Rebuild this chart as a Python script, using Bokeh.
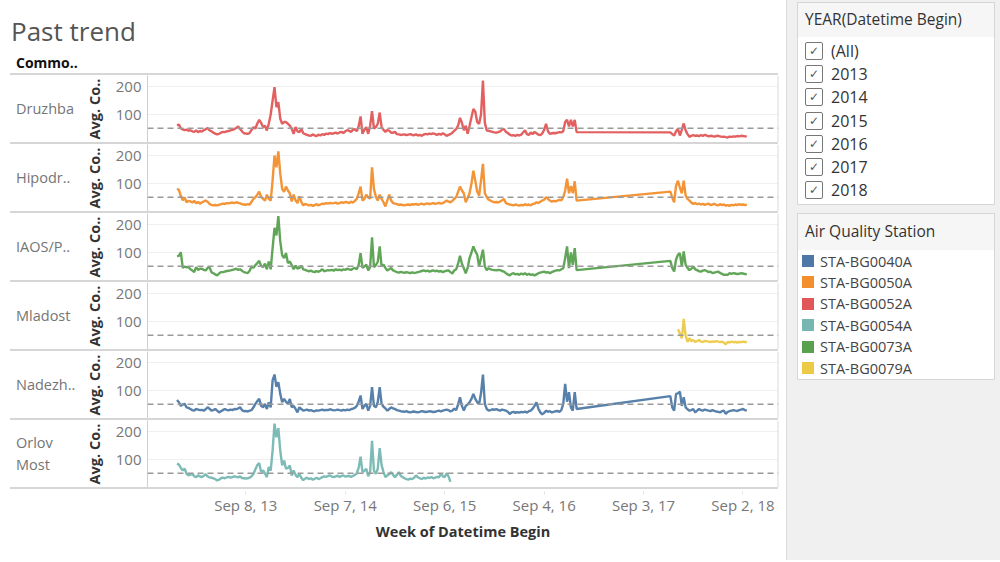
import pandas as pd
from bokeh.plotting import figure
from bokeh.models import Range1d, FixedTicker, Span, ColumnDataSource, Div
from bokeh.layouts import column, row
from bokeh.embed import file_html
from bokeh.resources import INLINE

# ---------------- data (weekly averages) ----------------
FIRST_WEEK = "2012-12-30"   # week index 0

druzhba_a_start = 0
druzhba_a = [61, 64, 50, 47, 44, 46, 42, 44, 40, 38,
             43, 37, 41, 39, 44, 47, 52, 44, 40, 35,
             32, 29, 31, 35, 38, 37, 40, 41, 43, 45,
             48, 52, 57, 48, 40, 33, 32, 31, 34, 45,
             55, 50, 68, 81, 70, 55, 60, 43, 67, 100,
             150, 198, 126, 144, 85, 67, 73, 73, 67, 60,
             49, 31, 55, 40, 37, 49, 33, 30, 27, 25,
             24, 29, 25, 23, 28, 25, 30, 27, 32, 30,
             34, 31, 33, 35, 32, 36, 38, 34, 40, 44,
             42, 38, 45, 48, 40, 58, 93, 31, 45, 55,
             31, 60, 112, 50, 55, 67, 107, 55, 45, 38,
             45, 42, 35, 35, 38, 30, 29, 27, 28, 29,
             26, 28, 30, 27, 26, 29, 25, 27, 24, 28,
             31, 29, 32, 30, 33, 30, 27, 31, 28, 33,
             29, 24, 27, 30, 35, 42, 48, 60, 88, 70,
             44, 60, 31, 60, 90, 120, 110, 73, 67, 100,
             221, 70, 43, 42, 40, 38, 36, 35, 37, 40,
             46, 48, 38, 34, 28, 25, 26, 24, 27, 25,
             28, 36, 44, 30, 27, 36, 30, 38, 33, 28,
             26, 32, 45, 67, 40, 31, 33, 34, 33, 35,
             37, 36, 40, 73, 81, 57, 81, 57, 81, 37]
druzhba_b_start = 258
druzhba_b = [36, 30, 25, 40, 49, 25, 45, 68, 44, 30,
             20, 24, 26, 24, 25, 23, 26, 24, 27, 25,
             22, 24, 23, 21, 23, 24, 22, 20, 21, 19,
             18, 21, 20, 22, 21, 23, 22, 24, 23, 22, 22]

hipodr_a_start = 0
hipodr_a = [81, 77, 55, 40, 50, 33, 38, 36, 32, 38,
            30, 34, 28, 32, 36, 39, 35, 27, 24, 22,
            23, 22, 24, 26, 28, 27, 30, 29, 31, 32,
            30, 33, 31, 29, 26, 25, 24, 26, 25, 35,
            45, 51, 60, 71, 51, 45, 39, 60, 45, 39,
            111, 200, 158, 215, 135, 81, 70, 89, 75, 65,
            36, 60, 40, 30, 54, 35, 22, 27, 25, 22,
            24, 20, 23, 26, 22, 25, 28, 27, 30, 28,
            31, 29, 30, 32, 28, 30, 33, 31, 34, 33,
            30, 35, 32, 38, 45, 65, 89, 39, 45, 60,
            50, 46, 158, 80, 53, 39, 60, 45, 33, 18,
            40, 60, 39, 30, 28, 26, 24, 25, 23, 22,
            24, 25, 23, 26, 25, 27, 24, 26, 28, 25,
            27, 29, 26, 28, 30, 27, 29, 31, 28, 30,
            34, 39, 35, 33, 38, 45, 51, 70, 89, 75,
            65, 33, 48, 65, 100, 146, 110, 71, 57, 110,
            170, 65, 51, 42, 39, 35, 33, 34, 32, 36,
            40, 45, 30, 27, 25, 24, 22, 25, 23, 21,
            24, 22, 26, 23, 25, 22, 27, 28, 33, 30,
            35, 39, 42, 51, 45, 39, 35, 38, 36, 39,
            42, 40, 51, 75, 117, 65, 91, 65, 108, 39]
hipodr_b_start = 258
hipodr_b = [71, 50, 33, 92, 110, 85, 65, 110, 57, 45,
            39, 32, 27, 30, 26, 28, 25, 27, 24, 26,
            28, 23, 25, 27, 24, 22, 26, 23, 25, 21,
            23, 20, 24, 22, 25, 23, 26, 24, 25, 23, 24]

iaos_a_start = 0
iaos_a = [87, 88, 101, 45, 50, 47, 48, 40, 36, 30,
          48, 38, 42, 42, 38, 36, 45, 48, 30, 26,
          22, 18, 25, 30, 30, 32, 34, 35, 36, 38,
          40, 42, 38, 40, 35, 30, 28, 27, 35, 50,
          45, 55, 62, 70, 52, 48, 60, 40, 68, 40,
          116, 188, 161, 230, 140, 90, 80, 98, 62, 68,
          55, 40, 53, 42, 45, 53, 40, 38, 35, 33,
          35, 32, 30, 34, 31, 35, 40, 33, 35, 37,
          36, 38, 35, 40, 37, 39, 36, 40, 38, 42,
          40, 38, 42, 45, 40, 55, 98, 45, 50, 57,
          36, 48, 154, 48, 55, 67, 122, 50, 57, 45,
          36, 40, 45, 36, 33, 30, 28, 31, 29, 27,
          30, 28, 26, 29, 27, 28, 30, 32, 34, 36,
          33, 35, 32, 34, 36, 33, 35, 32, 34, 30,
          33, 35, 36, 30, 25, 36, 40, 60, 88, 60,
          44, 26, 45, 80, 100, 122, 105, 92, 50, 80,
          110, 50, 37, 44, 40, 38, 37, 36, 38, 37,
          34, 32, 26, 22, 18, 24, 26, 22, 24, 20,
          25, 22, 26, 20, 24, 20, 22, 18, 22, 26,
          28, 30, 32, 28, 30, 26, 30, 33, 35, 37,
          36, 40, 44, 80, 122, 44, 100, 56, 116, 37]
iaos_b_start = 258
iaos_b = [70, 45, 32, 75, 92, 98, 50, 104, 56, 45,
          37, 42, 50, 40, 37, 33, 32, 35, 37, 34,
          30, 32, 26, 28, 30, 32, 27, 24, 20, 21,
          20, 26, 24, 26, 25, 23, 24, 26, 25, 23, 22]

mladost_a_start = 262
mladost_a = [72, 57, 40, 109, 50, 27, 40, 30, 34, 27,
             30, 34, 28, 27, 31, 30, 28, 26, 29, 27,
             30, 28, 26, 28, 24, 19, 27, 25, 28, 26,
             27, 25, 27, 26, 28, 27, 26]

nadezh_a_start = 0
nadezh_a = [66, 58, 45, 50, 52, 40, 38, 34, 30, 28,
            34, 32, 30, 31, 28, 33, 40, 35, 28, 30,
            34, 28, 22, 26, 30, 34, 31, 29, 32, 30,
            34, 33, 36, 40, 30, 26, 27, 25, 28, 30,
            40, 52, 62, 70, 45, 40, 52, 34, 58, 40,
            136, 157, 113, 130, 88, 58, 70, 60, 52, 70,
            40, 45, 34, 22, 40, 34, 28, 30, 32, 28,
            30, 27, 26, 29, 28, 30, 32, 29, 31, 30,
            33, 31, 29, 30, 32, 30, 28, 31, 29, 32,
            30, 33, 35, 38, 45, 60, 82, 34, 45, 52,
            28, 45, 112, 45, 40, 58, 112, 52, 42, 36,
            28, 34, 40, 36, 34, 30, 28, 26, 25, 24,
            26, 23, 22, 24, 25, 23, 22, 24, 26, 25,
            23, 24, 26, 25, 23, 24, 26, 28, 25, 28,
            30, 32, 30, 25, 28, 35, 30, 50, 76, 45,
            28, 45, 50, 58, 70, 88, 70, 58, 52, 90,
            157, 52, 34, 28, 30, 33, 31, 34, 30, 28,
            32, 30, 28, 24, 16, 22, 24, 20, 23, 21,
            24, 22, 25, 21, 26, 28, 35, 45, 58, 35,
            22, 15, 20, 28, 24, 26, 22, 24, 26, 27,
            24, 30, 52, 124, 60, 94, 40, 28, 94, 34]
nadezh_b_start = 258
nadezh_b = [80, 40, 28, 88, 90, 96, 45, 76, 40, 33,
            28, 30, 34, 22, 28, 34, 30, 28, 32, 30,
            28, 26, 30, 27, 25, 24, 22, 26, 28, 16,
            24, 26, 28, 30, 28, 27, 30, 32, 34, 30, 28]

orlov_a_start = 0
orlov_a = [85, 82, 70, 61, 67, 49, 43, 46, 49, 40,
           37, 43, 40, 37, 42, 47, 40, 36, 35, 33,
           30, 25, 28, 33, 35, 33, 36, 38, 35, 37,
           40, 38, 36, 40, 34, 33, 32, 33, 35, 40,
           49, 65, 80, 87, 55, 61, 50, 37, 73, 60,
           132, 228, 179, 212, 132, 79, 96, 67, 70, 79,
           43, 61, 45, 37, 49, 35, 26, 32, 35, 30,
           33, 28, 31, 35, 30, 33, 37, 40, 38, 41,
           43, 39, 37, 40, 42, 38, 41, 43, 39, 40,
           42, 38, 41, 45, 50, 70, 110, 55, 60, 67,
           40, 55, 167, 60, 49, 67, 141, 80, 55, 37,
           43, 48, 55, 45, 37, 45, 55, 42, 37, 33,
           30, 28, 32, 30, 35, 43, 36, 33, 30, 35,
           32, 36, 34, 37, 33, 35, 38, 36, 49, 40,
           37, 51, 40, 20]

row_names = ["Druzhba", "Hipodr..", "IAOS/P..", "Mladost", "Nadezh..", "Orlov<br>Most"]
row_codes = ["STA-BG0052A", "STA-BG0050A", "STA-BG0073A", "STA-BG0079A", "STA-BG0040A", "STA-BG0054A"]
row_segments = [
    [(druzhba_a_start, druzhba_a), (druzhba_b_start, druzhba_b)],
    [(hipodr_a_start, hipodr_a), (hipodr_b_start, hipodr_b)],
    [(iaos_a_start, iaos_a), (iaos_b_start, iaos_b)],
    [(mladost_a_start, mladost_a)],
    [(nadezh_a_start, nadezh_a), (nadezh_b_start, nadezh_b)],
    [(orlov_a_start, orlov_a)],
]
legend_codes = ["STA-BG0040A", "STA-BG0050A", "STA-BG0052A", "STA-BG0054A", "STA-BG0073A", "STA-BG0079A"]
legend_colors = ["#4e79a7", "#f28e2b", "#e15759", "#76b7b2", "#59a14f", "#edc948"]
year_options = ["(All)", "2013", "2014", "2015", "2016", "2017", "2018"]
reference_value = 51
y_ticks = [100, 200]
tick_dates = ["2013-09-08", "2014-09-07", "2015-09-06", "2016-09-04", "2017-09-03", "2018-09-02"]
tick_labels = ["Sep 8, 13", "Sep 7, 14", "Sep 6, 15", "Sep 4, 16", "Sep 3, 17", "Sep 2, 18"]

# ---------------- layout constants ----------------
FONT = "Open Sans"
TOTAL_W = 786
LABEL_W = 80
FIG_W = TOTAL_W - LABEL_W
BORDER_L = 147 - LABEL_W
BORDER_R = 8
ROW_H = 67
SEP_H = 2
Y_MAX = ROW_H / 0.28
SEP_COLOR = "#d6d6d6"

color_of = dict(zip(legend_codes, legend_colors))
x_start = pd.Timestamp("2012-09-13")
x_end = pd.Timestamp("2019-01-10")
x_range = Range1d(x_start, x_end)
tick_ms = [float(pd.Timestamp(d).value // 10**6) for d in tick_dates]


def series_source(segments):
    xs, ys = [], []
    base = pd.Timestamp(FIRST_WEEK)
    for start, vals in segments:
        for k, v in enumerate(vals):
            xs.append(base + pd.Timedelta(weeks=start + k))
            ys.append(v)
    return ColumnDataSource(dict(x=xs, y=ys))


def separator():
    # thin grey rule between panes (full width, starts 10px in)
    return Div(width=768, height=SEP_H, margin=(0, 8, 0, 10), text="",
               styles={"background-color": SEP_COLOR})


header = Div(width=TOTAL_W, height=73, margin=(0, 0, 0, 0), text=(
    '<div style="position:relative;width:%dpx;height:73px;font-family:\'Open Sans\';">'
    '<div style="position:absolute;left:11px;top:13px;height:36px;line-height:36px;font-size:26px;'
    'color:#555;white-space:nowrap;">Past trend</div>'
    '<div style="position:absolute;left:16px;top:53px;height:20px;line-height:20px;font-size:14px;'
    'font-weight:bold;color:#111;white-space:nowrap;">Commo..</div>'
    '</div>') % TOTAL_W)

items = [header]
for k in range(len(row_names)):
    code = row_codes[k]
    p = figure(width=FIG_W, height=ROW_H, x_range=x_range, y_range=Range1d(0, Y_MAX),
               x_axis_type="datetime", x_axis_location=None,
               toolbar_location=None, output_backend="svg", title=None,
               min_border_left=BORDER_L, min_border_right=BORDER_R, min_border_top=0,
               min_border_bottom=0, outline_line_color=None,
               background_fill_color="white", border_fill_color="white")
    p.xgrid.visible = False
    p.ygrid.ticker = FixedTicker(ticks=y_ticks)
    p.ygrid.grid_line_color = "#efefef"
    p.ygrid.grid_line_width = 1

    ya = p.yaxis[0]
    ya.ticker = FixedTicker(ticks=y_ticks)
    ya.major_tick_line_color = None
    ya.minor_tick_line_color = None
    ya.major_tick_out = 0
    ya.major_tick_in = 0
    ya.axis_line_color = "#cfcfcf"
    ya.major_label_text_font = FONT
    ya.major_label_text_font_size = "15px"
    ya.major_label_text_color = "#777777"
    ya.major_label_standoff = 6
    ya.axis_label = "Avg. Co.."
    ya.axis_label_text_font = FONT
    ya.axis_label_text_font_size = "14.5px"
    ya.axis_label_text_font_style = "bold"
    ya.axis_label_text_color = "#333333"
    ya.axis_label_standoff = 9

    p.line("x", "y", source=series_source(row_segments[k]), line_color=color_of[code],
           line_width=2.4, line_alpha=0.95)
    p.add_layout(Span(location=reference_value, dimension="width", line_color="#9a9a9a",
                      line_width=1.5, line_dash="6 4"))
    p.add_layout(Span(location=float(x_end.value // 10**6), dimension="height",
                      line_color="#dcdcdc", line_width=2))

    lab = Div(width=LABEL_W, height=ROW_H, margin=(0, 0, 0, 0), text=(
        '<div style="display:flex;align-items:center;height:%dpx;padding-left:16px;'
        'font-family:\'Open Sans\';font-size:14.5px;line-height:22px;color:#757575;">%s</div>'
        % (ROW_H, row_names[k])))
    items.append(separator())
    items.append(row(lab, p, spacing=0))
items.append(separator())

# x axis strip
ax = figure(width=FIG_W, height=60, x_range=x_range, y_range=Range1d(0, 1),
            x_axis_type="datetime", y_axis_location=None,
            toolbar_location=None, output_backend="svg", title=None,
            min_border_left=BORDER_L, min_border_right=BORDER_R, min_border_top=0,
            min_border_bottom=58, outline_line_color=None)
ax.grid.visible = False
xa = ax.xaxis[0]
xa.ticker = FixedTicker(ticks=tick_ms)
xa.major_label_overrides = {t: lab for t, lab in zip(tick_ms, tick_labels)}
xa.major_tick_out = 3
xa.major_tick_in = 0
xa.major_tick_line_color = "#e2e2e2"
xa.minor_tick_line_color = None
xa.axis_line_color = None
xa.major_label_text_font = FONT
xa.major_label_text_font_size = "15px"
xa.major_label_text_color = "#777777"
xa.major_label_standoff = 0
xa.axis_label = "Week of Datetime Begin"
xa.axis_label_text_font = FONT
xa.axis_label_text_font_size = "14.5px"
xa.axis_label_text_font_style = "bold"
xa.axis_label_text_color = "#333333"
xa.axis_label_standoff = 4
spacer = Div(width=LABEL_W, height=60, margin=(0, 0, 0, 0), text="")
items.append(row(spacer, ax, spacing=0))

left = column(*items, spacing=0)

# ---------------- right side panels (filter + colour legend) ----------------
html = ['<div style="position:relative;width:214px;height:560px;background:#f0f0f0;'
        'font-family:\'Open Sans\';overflow:hidden;border-left:1px solid #dadada;box-sizing:border-box;">']
html.append('<div style="position:absolute;left:10px;top:2px;width:198px;height:203px;background:#fff;'
            'border:1px solid #d6d6d6;box-sizing:border-box;"></div>')
html.append('<div style="position:absolute;left:11px;top:3px;width:196px;height:34px;background:#f6f6f6;"></div>')
html.append('<div style="position:absolute;left:18px;top:8px;height:23px;line-height:23px;font-size:15.5px;'
            'color:#333;white-space:nowrap;">YEAR(Datetime Begin)</div>')
for j, opt in enumerate(year_options):
    cy = 51 + j * 23.2
    html.append('<div style="position:absolute;left:18px;top:%.1fpx;width:18px;height:18px;box-sizing:border-box;'
                'border:1px solid #777;border-radius:2px;background:#fff;text-align:center;line-height:16px;'
                'font-family:\'DejaVu Sans\';font-size:12px;color:#555;">&#10003;</div>' % (cy - 9))
    html.append('<div style="position:absolute;left:44px;top:%.1fpx;height:22px;line-height:22px;font-size:16px;'
                'color:#333;white-space:nowrap;">%s</div>' % (cy - 11, opt))
html.append('<div style="position:absolute;left:10px;top:213px;width:198px;height:167px;background:#fff;'
            'border:1px solid #d6d6d6;box-sizing:border-box;"></div>')
html.append('<div style="position:absolute;left:11px;top:214px;width:196px;height:36px;background:#f6f6f6;"></div>')
html.append('<div style="position:absolute;left:18px;top:220px;height:23px;line-height:23px;font-size:15.5px;'
            'color:#333;white-space:nowrap;">Air Quality Station</div>')
for j, (code, col) in enumerate(zip(legend_codes, legend_colors)):
    cy = 261 + j * 21.4
    html.append('<div style="position:absolute;left:15px;top:%.1fpx;width:12px;height:12px;background:%s;"></div>'
                % (cy - 6, col))
    html.append('<div style="position:absolute;left:33px;top:%.1fpx;height:21px;line-height:21px;font-size:14.5px;'
                'color:#444;white-space:nowrap;">%s</div>' % (cy - 10.5, code))
html.append('</div>')

panel = Div(text="".join(html), width=214, height=560, margin=(0, 0, 0, 0))

page = row(left, panel, spacing=0)

open("out.html", "w").write(file_html(page, INLINE))
